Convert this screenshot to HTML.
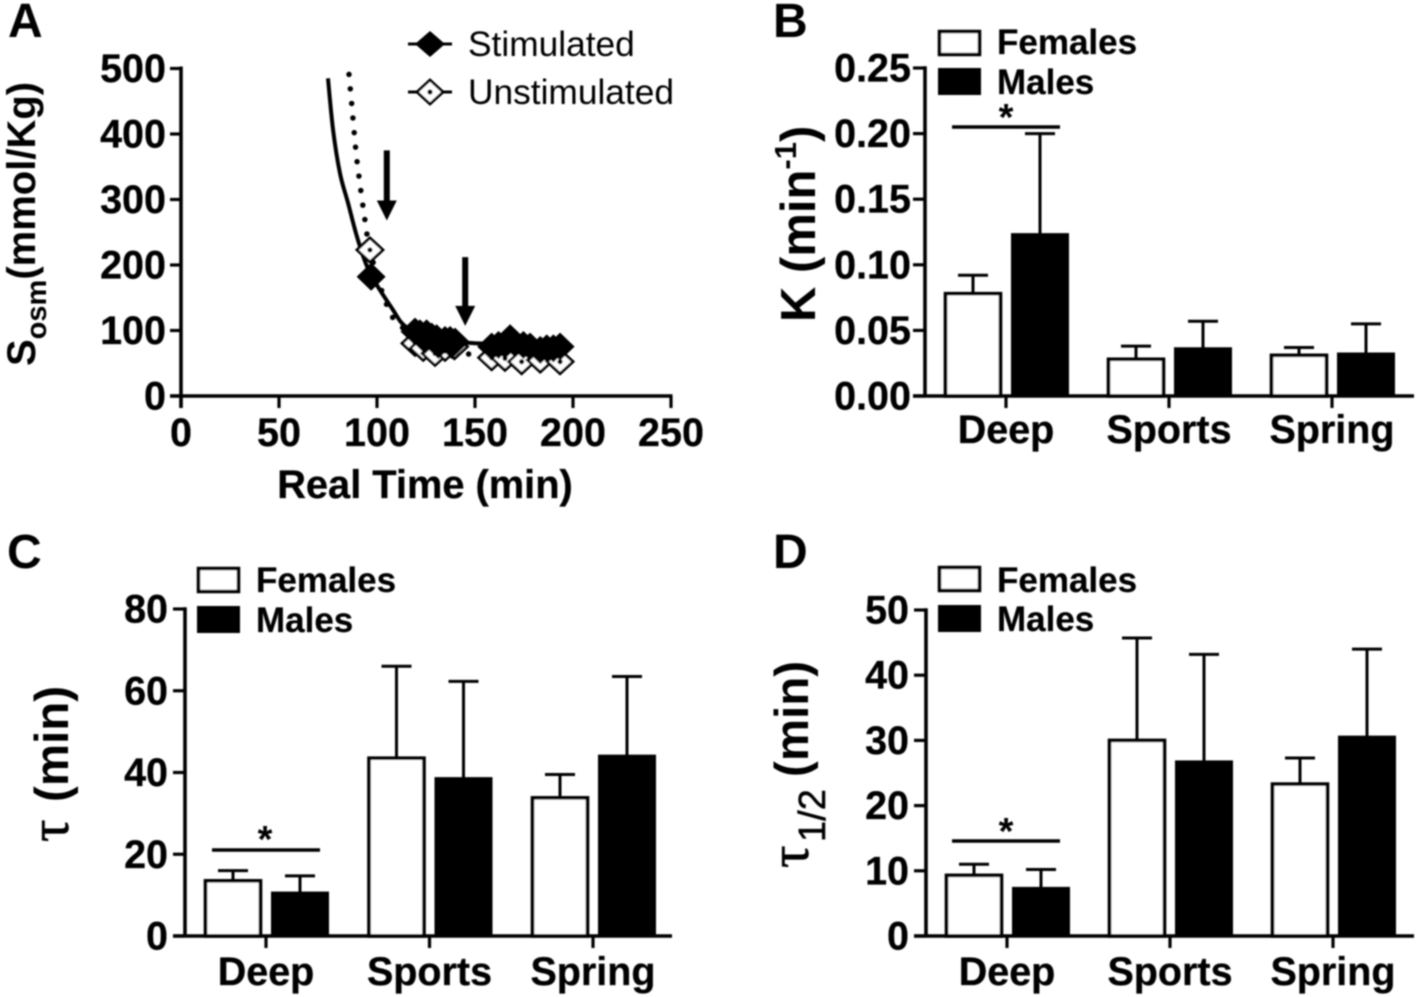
<!DOCTYPE html>
<html lang="en">
<head>
<meta charset="utf-8">
<title>Osmolality kinetics figure</title>
<style>
html,body{margin:0;padding:0;background:#fff;}
svg{display:block;}
text{font-family:"Liberation Sans",sans-serif;fill:#000;}
.tick{font-weight:bold;font-size:39.5px;stroke:#000;stroke-width:.3px;}
.leg{font-weight:bold;font-size:35px;stroke:#000;stroke-width:.2px;}
.letter{font-weight:bold;font-size:48px;}
.star{font-weight:bold;font-size:38px;text-anchor:middle;}
</style>
</head>
<body>
<svg id="fig" xmlns="http://www.w3.org/2000/svg" width="1418" height="997" viewBox="0 0 1418 997">
<defs><filter id="soft" x="-2%" y="-2%" width="104%" height="104%"><feGaussianBlur stdDeviation="0.7"/></filter></defs>
<rect width="1418" height="997" fill="#fff"/>
<g id="root" filter="url(#soft)">
  <text class="letter" x="8" y="37">A</text>
  <text class="letter" x="773" y="37">B</text>
  <text class="letter" x="7" y="568">C</text>
  <text class="letter" x="773" y="568">D</text>

  <g id="panelA">
    <text transform="translate(35,366) rotate(-90)" font-weight="bold" font-size="40">S<tspan font-size="29" dy="11">osm</tspan><tspan dy="-11" font-size="40">(mmol/Kg)</tspan></text>
    <text x="425" y="498" text-anchor="middle" font-weight="bold" font-size="39.8" stroke="#000" stroke-width=".3">Real Time (min)</text>
    <g>
      <line x1="408" x2="452" y1="44" y2="44" stroke="#000" stroke-width="3"/>
      <polygon points="430,31 445,44 430,57 415,44" fill="#000"/>
      <text x="468" y="56" font-size="35.3">Stimulated</text>
    </g>
    <g>
      <line x1="408" x2="452" y1="92" y2="92" stroke="#000" stroke-width="3"/>
      <polygon points="430,80 443,92 430,104 417,92" fill="#fff" stroke="#000" stroke-width="2.8"/>
      <circle cx="430" cy="92" r="2.6" fill="#000"/>
      <text x="468" y="104" font-size="35.3">Unstimulated</text>
    </g>
  </g>

  <g id="panelB">
    <text transform="translate(815,322) rotate(-90)" font-weight="bold" font-size="49">K (min<tspan font-size="31" dy="-19">-1</tspan><tspan dy="19">)</tspan></text>
    <g>
      <rect x="939.5" y="31.5" width="40" height="23" fill="#fff" stroke="#000" stroke-width="3.5"/>
      <rect x="938" y="68" width="43" height="27" fill="#000"/>
      <text class="leg" x="997" y="54">Females</text>
      <text class="leg" x="997" y="94">Males</text>
    </g>
    <line x1="952" x2="1060" y1="127" y2="127" stroke="#000" stroke-width="3.5"/>
    <text class="star" x="1006" y="130">*</text>
  </g>

  <g id="panelC">
    <text transform="translate(68,842) rotate(-90)" font-size="47.5" font-weight="bold"><tspan font-family="Liberation Serif" font-size="56" font-weight="normal" stroke="#000" stroke-width=".6">τ</tspan><tspan x="40">(min)</tspan></text>
    <g>
      <rect x="198.5" y="568.5" width="40" height="23" fill="#fff" stroke="#000" stroke-width="3.5"/>
      <rect x="197" y="606" width="43" height="27" fill="#000"/>
      <text class="leg" x="256" y="592">Females</text>
      <text class="leg" x="256" y="632">Males</text>
    </g>
    <line x1="212" x2="320" y1="850" y2="850" stroke="#000" stroke-width="3.5"/>
    <text class="star" x="265" y="852">*</text>
  </g>

  <g id="panelD">
    <text transform="translate(808,868) rotate(-90)" font-size="47.5" font-weight="bold"><tspan font-family="Liberation Serif" font-size="56" font-weight="normal" stroke="#000" stroke-width=".6">τ</tspan><tspan x="26" font-size="38" font-weight="normal" stroke="#000" stroke-width=".5" dy="17">1/2</tspan><tspan x="91" dy="-17">(min)</tspan></text>
    <g>
      <rect x="939.5" y="567.5" width="40" height="23" fill="#fff" stroke="#000" stroke-width="3.5"/>
      <rect x="938" y="605" width="43" height="27" fill="#000"/>
      <text class="leg" x="997" y="592">Females</text>
      <text class="leg" x="997" y="631">Males</text>
    </g>
    <line x1="952" x2="1060" y1="841" y2="841" stroke="#000" stroke-width="3.5"/>
    <text class="star" x="1006" y="844">*</text>
  </g>
</g>
</svg>
<script>
// Panel A data
const aXTicks = [0, 50, 100, 150, 200, 250];
const aYTicks = [0, 100, 200, 300, 400, 500];
const stimCurveT = [75, 77.6, 81.1, 85.2, 90.3, 96.4, 107.6, 115, 129, 147, 170, 195];
const stimCurveV = [485, 406, 340, 295, 238, 188, 134, 105, 88, 81, 79, 78];
const unstimCurveT = [85.7, 87.1, 89.1, 90.8, 93.9, 96.4, 102.6, 108.2, 115, 129, 147, 170, 195];
const unstimCurveV = [491, 446, 379, 335, 268, 223, 159, 119, 100, 72, 64, 58, 52];
const stimT = [97, 119.4, 121.9, 125.3, 127.9, 130.4, 134.7, 137.3, 139.8, 138.1, 124.5, 131.3, 158.5, 162, 167.9, 165.3, 170.5, 174.7, 178.1, 183.3, 186.6, 190, 193.4];
const stimV = [182, 98.2, 95.7, 95.7, 90.6, 88.1, 85.5, 85.5, 83, 77.9, 85.5, 77.9, 75.3, 77.9, 88.1, 77.9, 80.4, 77.9, 75.3, 70.2, 72.8, 72.8, 75.3];
const unstimT = [96.4, 119.4, 123.6, 129.6, 134.7, 139.5, 158.5, 165.3, 173.8, 183.3, 193.4];
const unstimV = [223, 80.4, 72.8, 65.1, 72.8, 75.3, 58.5, 57.5, 52.4, 54.9, 52.4];
const arrowT = [105, 145];
const arrowTopV = [375, 212];
const arrowTipV = [268, 107];

// Bar panel data
const categories = ['Deep', 'Sports', 'Spring'];
const bYTicks = ['0.00', '0.05', '0.10', '0.15', '0.20', '0.25'];
const bFemales = [0.078, 0.028, 0.031];
const bMales = [0.123, 0.036, 0.032];
const bFemalesTop = [0.092, 0.038, 0.037];
const bMalesTop = [0.200, 0.057, 0.055];
const cYTicks = ['0', '20', '40', '60', '80'];
const cFemales = [13.5, 43.5, 33.8];
const cMales = [10.5, 38.5, 44];
const cFemalesTop = [16, 66, 39.5];
const cMalesTop = [14.7, 62.3, 63.5];
const dYTicks = ['0', '10', '20', '30', '40', '50'];
const dFemales = [9.3, 30, 23.3];
const dMales = [7.3, 26.7, 30.5];
const dFemalesTop = [11, 45.7, 27.3];
const dMalesTop = [10.2, 43.2, 44];

const NS = 'http://www.w3.org/2000/svg';
function mk(parent, tag, attrs, txt) {
  const el = document.createElementNS(NS, tag);
  for (const k in attrs) el.setAttribute(k, attrs[k]);
  if (txt !== undefined) el.textContent = txt;
  parent.appendChild(el);
  return el;
}
function line(parent, x1, y1, x2, y2, w) {
  return mk(parent, 'line', {x1: x1, y1: y1, x2: x2, y2: y2, stroke: '#000', 'stroke-width': w});
}

// Panel A drawing
const gA = document.getElementById('panelA');
const ax = t => 181 + t * 1.96;
const ay = v => 396 - v * 0.655;

function curvePath(ts, vs) {
  const p = ts.map((t, i) => [ax(t), ay(vs[i])]);
  let d = 'M' + p[0][0].toFixed(1) + ' ' + p[0][1].toFixed(1);
  for (let i = 0; i < p.length - 1; i++) {
    const a = p[Math.max(i - 1, 0)], b = p[i], c = p[i + 1], e = p[Math.min(i + 2, p.length - 1)];
    d += ' C' + (b[0] + (c[0] - a[0]) / 6).toFixed(1) + ' ' + (b[1] + (c[1] - a[1]) / 6).toFixed(1) + ' ' +
      (c[0] - (e[0] - b[0]) / 6).toFixed(1) + ' ' + (c[1] - (e[1] - b[1]) / 6).toFixed(1) + ' ' +
      c[0].toFixed(1) + ' ' + c[1].toFixed(1);
  }
  return d;
}
const unstimCurve = mk(gA, 'path', {d: curvePath(unstimCurveT, unstimCurveV), fill: 'none', stroke: '#000', 'stroke-width': 5.5, 'stroke-linecap': 'round', 'stroke-dasharray': '0 14.6'});


const stimCurve = mk(gA, 'path', {d: curvePath(stimCurveT, stimCurveV), fill: 'none', stroke: '#000', 'stroke-width': 4, 'stroke-linejoin': 'round'});



unstimT.forEach((t, i) => {
  const x = ax(t), y = ay(unstimV[i]);
  const g = mk(gA, 'g', {});
  
  
  mk(g, 'polygon', {points: [x, y - 12, x + 13, y, x, y + 12, x - 13, y].join(' '), fill: '#fff', stroke: '#000', 'stroke-width': 2.8});
  mk(g, 'circle', {cx: x, cy: y, r: 2.6, fill: '#000'});
});
stimT.forEach((t, i) => {
  const x = ax(t), y = ay(stimV[i]);
  const p = mk(gA, 'polygon', {points: [x, y - 14, x + 14.5, y, x, y + 14, x - 14.5, y].join(' '), fill: '#000'});
  
  
});
arrowT.forEach((t, i) => {
  const x = ax(t) - 0, top = ay(arrowTopV[i]), tip = ay(arrowTipV[i]);
  const a = mk(gA, 'polygon', {points: [x - 3, top, x + 3, top, x + 3, tip - 20, x + 10, tip - 20, x, tip, x - 10, tip - 20, x - 3, tip - 20].join(' '), fill: '#000'});
  
  
});

const axisA = mk(gA, 'g', {});


line(axisA, 181, 66.5, 181, 408, 3.6);
line(axisA, 170, 396, 672.5, 396, 3.6);
aYTicks.forEach(v => {
  line(axisA, 170, ay(v), 181, ay(v), 3.2);
  const t = mk(axisA, 'text', {class: 'tick', x: 166, y: ay(v) + 13.5, 'text-anchor': 'end'}, String(v));
  
  
});
aXTicks.forEach(v => {
  line(axisA, ax(v), 396, ax(v), 408, 3.2);
  const t = mk(axisA, 'text', {class: 'tick', x: ax(v), y: 446, 'text-anchor': 'middle'}, String(v));
  
  
});

// Bar panels
function barPanel(id, o) {
  const g = document.getElementById(id);
  const y = v => o.y0 - (v / o.yMax) * (o.y0 - o.yTop);
  const n = o.yLabels.length - 1;
  o.females.forEach((v, i) => {
    const c = o.c0 + i * o.step;
    const fx = c - 33, mx = c + 34;
    line(g, fx, y(v), fx, y(o.femalesTop[i]), 3);
    line(g, fx - 15, y(o.femalesTop[i]), fx + 15, y(o.femalesTop[i]), 3);
    line(g, mx, y(o.males[i]), mx, y(o.malesTop[i]), 3);
    line(g, mx - 15, y(o.malesTop[i]), mx + 15, y(o.malesTop[i]), 3);
    const f = mk(g, 'rect', {x: fx - 27.5, y: y(v), width: 55, height: o.y0 - y(v), fill: '#fff', stroke: '#000', 'stroke-width': 3.6});
    
    
    const m = mk(g, 'rect', {x: mx - 29, y: y(o.males[i]) - 1.5, width: 58, height: o.y0 - y(o.males[i]) + 1.5, fill: '#000'});
    
    
    line(g, c, o.y0, c, o.y0 + 12, 3.2);
    const t = mk(g, 'text', {class: 'tick', x: c, y: o.labelY, 'text-anchor': 'middle'}, categories[i]);
    
    
  });
  line(g, o.axisX, o.yTop - 1.7, o.axisX, o.y0, 3.6);
  line(g, o.axisX - 12, o.y0, o.xEnd, o.y0, 3.6);
  o.yLabels.forEach((lab, i) => {
    const py = y(o.yMax * i / n);
    line(g, o.axisX - 12, py, o.axisX, py, 3.2);
    const t = mk(g, 'text', {class: 'tick', x: o.labelX, y: py + 13.5, 'text-anchor': 'end'}, lab);
    
    
  });
}
barPanel('panelB', {y0: 396, yTop: 68, yMax: 0.25, axisX: 925, xEnd: 1414, c0: 1006, step: 163, labelX: 911, labelY: 443, yLabels: bYTicks, females: bFemales, males: bMales, femalesTop: bFemalesTop, malesTop: bMalesTop});
barPanel('panelC', {y0: 936, yTop: 609, yMax: 80, axisX: 185, xEnd: 672, c0: 266, step: 163.5, labelX: 168, labelY: 985, yLabels: cYTicks, females: cFemales, males: cMales, femalesTop: cFemalesTop, malesTop: cMalesTop});
barPanel('panelD', {y0: 936, yTop: 610, yMax: 50, axisX: 926, xEnd: 1414, c0: 1007, step: 163, labelX: 909, labelY: 985, yLabels: dYTicks, females: dFemales, males: dMales, femalesTop: dFemalesTop, malesTop: dMalesTop});
</script>
</body>
</html>
